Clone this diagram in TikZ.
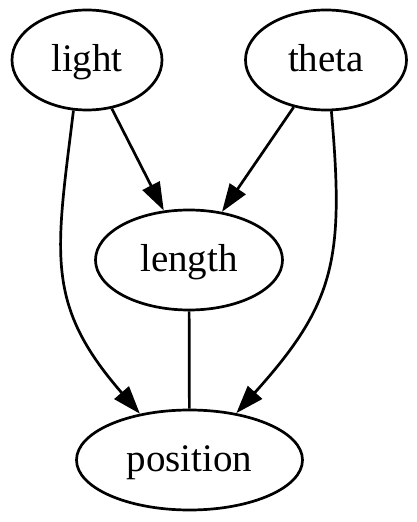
\documentclass[tikz,border=0pt]{standalone}
\usepackage{fontspec}
\setmainfont{Liberation Serif}
\usetikzlibrary{shapes.geometric,arrows.meta}
\begin{document}
\begin{tikzpicture}[x=1pt,y=1pt,line width=2.7pt,
    every node/.style={ellipse,draw,inner sep=0pt,minimum height=100pt,
      text height=30pt,text depth=7pt,
      font=\fontsize{39}{47}\selectfont},
    >={Triangle[length=28pt,width=19pt]}]
      \useasboundingbox (0,0) rectangle (416,522);
      \draw
        (87,462) node[minimum width=150pt] (light){light}
        (326,462) node[minimum width=161pt] (theta){theta}
        (189,262) node[minimum width=187pt] (length){length}
        (189.5,62) node[minimum width=226pt] (position){position};
      \begin{scope}[->]
        \draw (light) to (length);
        \draw (theta) to (length);
        \draw (light.-105) to[out=-97,in=131,looseness=1.2] (position.137);
        \draw (theta.-84) to[out=-85,in=48,looseness=1.2] (position.45);
      \end{scope}
      \draw (length) to (position);
    \end{tikzpicture}
\end{document}
